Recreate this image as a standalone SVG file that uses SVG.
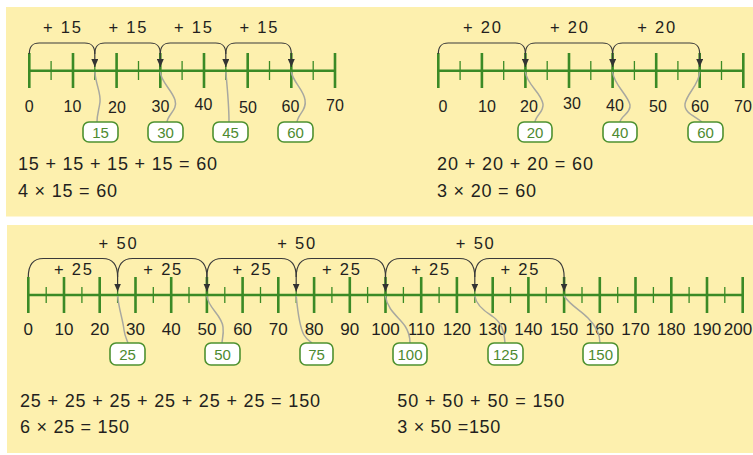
<svg xmlns="http://www.w3.org/2000/svg" width="753" height="455" viewBox="0 0 753 455">
<style>
.bg{fill:#fdf0ae}
.axis{stroke:#3b8a26;stroke-width:2.6;fill:none}
.maj{stroke:#3b8a26;stroke-width:2.6;fill:none}
.min{stroke:#3b8a26;stroke-width:1.3;fill:none}
.arc{stroke:#3a3a3a;stroke-width:1.2;fill:none;marker-end:url(#ah)}
.lead{stroke:#a8a8a0;stroke-width:1.5;fill:none}
.box{fill:#ffffff;stroke:#4e9130;stroke-width:1.6}
.bt{font-family:"Liberation Sans",Arial,sans-serif;font-size:15px;fill:#4e8a30;text-anchor:middle}
.lab{font-family:"Liberation Sans",Arial,sans-serif;font-size:16px;fill:#231f20;text-anchor:middle}
.lab2{font-family:"Liberation Sans",Arial,sans-serif;font-size:17px;fill:#231f20;text-anchor:middle}
.jmp{font-family:"Liberation Sans",Arial,sans-serif;font-size:16.5px;fill:#231f20;text-anchor:middle}
.eq{font-family:"Liberation Sans",Arial,sans-serif;font-size:18px;fill:#231f20}
</style>
<defs>
<marker id="ah" markerUnits="userSpaceOnUse" viewBox="0 0 8 7" markerWidth="8" markerHeight="7" refX="8" refY="3.5" orient="auto">
<path d="M0,0 L8,3.5 L0,7 Z" fill="#333333"/>
</marker>
</defs>

<rect class="bg" x="6" y="7" width="747" height="209.5"/>
<rect class="bg" x="7" y="225" width="746" height="228"/>

<!-- Number line 1 -->
<g id="line1">
<path class="axis" d="M29.3,70.7H335"/>
<path class="maj" d="M29.3,53V88M73,53V88M116.6,53V88M160.3,53V88M204,53V88M247.7,53V88M291.3,53V88M335,53V88"/>
<path class="min" d="M51.1,61V80M94.8,61V80M138.5,61V80M182.1,61V80M225.8,61V80M269.5,61V80M313.2,61V80"/>
<text class="lab" x="29.3" y="111.5">0</text>
<text class="lab" x="72.5" y="111.5">10</text>
<text class="lab" x="117" y="113">20</text>
<text class="lab" x="160.5" y="112">30</text>
<text class="lab" x="203.5" y="110">40</text>
<text class="lab" x="248" y="112.5">50</text>
<text class="lab" x="290.5" y="112">60</text>
<text class="lab" x="335" y="111">70</text>
</g>

<!-- Number line 2 -->
<g id="line2">
<path class="axis" d="M438.3,70.7H743.3"/>
<path class="maj" d="M438.3,53V88M481.9,53V88M525.4,53V88M569,53V88M612.6,53V88M656.2,53V88M699.7,53V88M743.3,53V88"/>
<path class="min" d="M460.1,61V80M503.7,61V80M547.2,61V80M590.8,61V80M634.4,61V80M677.9,61V80M721.5,61V80"/>
<text class="lab" x="443" y="112">0</text>
<text class="lab" x="487" y="112">10</text>
<text class="lab" x="529" y="112">20</text>
<text class="lab" x="572" y="108.5">30</text>
<text class="lab" x="615" y="111">40</text>
<text class="lab" x="658" y="112">50</text>
<text class="lab" x="700" y="112">60</text>
<text class="lab" x="743" y="112">70</text>
</g>

<!-- Number line 3 -->
<g id="line3">
<path class="axis" d="M28.3,295H742.7"/>
<path class="maj" d="M28.3,277V313M64,277V313M99.7,277V313M135.5,277V313M171.2,277V313M206.9,277V313M242.6,277V313M278.3,277V313M314.1,277V313M349.8,277V313M385.5,277V313M421.2,277V313M456.9,277V313M492.7,277V313M528.4,277V313M564.1,277V313M599.8,277V313M635.5,277V313M671.3,277V313M707,277V313M742.7,277V313"/>
<path class="min" d="M46.2,287V303M81.9,287V303M117.6,287V303M153.3,287V303M189,287V303M224.8,287V303M260.5,287V303M296.2,287V303M331.9,287V303M367.6,287V303M403.4,287V303M439.1,287V303M474.8,287V303M510.5,287V303M546.2,287V303M582,287V303M617.7,287V303M653.4,287V303M689.1,287V303M724.8,287V303"/>
<text class="lab2" x="28.3" y="335">0</text>
<text class="lab2" x="64" y="335">10</text>
<text class="lab2" x="99.7" y="335">20</text>
<text class="lab2" x="135.5" y="335">30</text>
<text class="lab2" x="171.2" y="335">40</text>
<text class="lab2" x="206.9" y="335">50</text>
<text class="lab2" x="242.6" y="335">60</text>
<text class="lab2" x="278.3" y="335">70</text>
<text class="lab2" x="314.1" y="335">80</text>
<text class="lab2" x="349.8" y="335">90</text>
<text class="lab2" x="385.5" y="335">100</text>
<text class="lab2" x="421.2" y="335">110</text>
<text class="lab2" x="456.9" y="335">120</text>
<text class="lab2" x="492.7" y="335">130</text>
<text class="lab2" x="528.4" y="335">140</text>
<text class="lab2" x="564.1" y="335">150</text>
<text class="lab2" x="599.8" y="335">160</text>
<text class="lab2" x="635.5" y="335">170</text>
<text class="lab2" x="671.3" y="335">180</text>
<text class="lab2" x="707" y="335">190</text>
<text class="lab2" x="738" y="335">200</text>
</g>

<!-- Connectors: jump arcs and leader curves -->
<g id="connectors">
<path class="arc" d="M29.3,54 C29.3,46 32.3,43 39.3,43 L84.8,43 C91.8,43 94.8,46 94.8,54 L94.8,67"/>
<path class="arc" d="M94.8,54 C94.8,46 97.8,43 104.8,43 L150.3,43 C157.3,43 160.3,46 160.3,54 L160.3,67"/>
<path class="arc" d="M160.3,54 C160.3,46 163.3,43 170.3,43 L215.8,43 C222.8,43 225.8,46 225.8,54 L225.8,67"/>
<path class="arc" d="M225.8,54 C225.8,46 228.8,43 235.8,43 L281.3,43 C288.3,43 291.3,46 291.3,54 L291.3,67"/>

<path class="arc" d="M438.3,54 C438.3,46 441.3,43 448.3,43 L515.4,43 C522.4,43 525.4,46 525.4,54 L525.4,67"/>
<path class="arc" d="M525.4,54 C525.4,46 528.4,43 535.4,43 L602.6,43 C609.6,43 612.6,46 612.6,54 L612.6,67"/>
<path class="arc" d="M612.6,54 C612.6,46 615.6,43 622.6,43 L689.7,43 C696.7,43 699.7,46 699.7,54 L699.7,67"/>

<path class="arc" d="M28.3,277 C28.3,266 32.3,258.5 43.3,258.5 L102.6,258.5 C113.6,258.5 117.6,266 117.6,277 L117.6,291.5"/>
<path class="arc" d="M117.6,277 C117.6,266 121.6,258.5 132.6,258.5 L191.9,258.5 C202.9,258.5 206.9,266 206.9,277 L206.9,291.5"/>
<path class="arc" d="M206.9,277 C206.9,266 210.9,258.5 221.9,258.5 L281.2,258.5 C292.2,258.5 296.2,266 296.2,277 L296.2,291.5"/>
<path class="arc" d="M296.2,277 C296.2,266 300.2,258.5 311.2,258.5 L370.5,258.5 C381.5,258.5 385.5,266 385.5,277 L385.5,291.5"/>
<path class="arc" d="M385.5,277 C385.5,266 389.5,258.5 400.5,258.5 L459.8,258.5 C470.8,258.5 474.8,266 474.8,277 L474.8,291.5"/>
<path class="arc" d="M474.8,277 C474.8,266 478.8,258.5 489.8,258.5 L549.1,258.5 C560.1,258.5 564.1,266 564.1,277 L564.1,291.5"/>

<path class="lead" d="M94.8,72 C96,85 101,93 100,102 C99,110 97,114 97,122"/>
<path class="lead" d="M160.3,72 C161,82 172,90 175,100 C178,110 168,114 167,122"/>
<path class="lead" d="M225.8,72 C228,95 229,105 229,122"/>
<path class="lead" d="M291.3,72 C293,82 304,90 305,100 C307,110 298,114 297,122"/>

<path class="lead" d="M525.4,72 C527,85 541,92 543,104 C544,112 536,115 535,122"/>
<path class="lead" d="M612.6,72 C614,85 628,95 630,105 C631,113 621,116 620,122"/>
<path class="lead" d="M699.7,72 C699,85 687,93 685,104 C684,113 695,116 702,122"/>

<path class="lead" d="M117.6,296 C119,310 123,320 124,330 C125,337 127,340 128,343"/>
<path class="lead" d="M206.9,296 C208,308 222,315 223,327 C224,335 222,339 222,343"/>
<path class="lead" d="M296.2,296 C298,315 300,328 304,335 C307,340 310,341 312,343"/>
<path class="lead" d="M385.5,296 C387,310 400,318 405,326 C409,332 410,338 410,343"/>
<path class="lead" d="M474.8,296 C476,305 484,311 492,316 C501,322 504,330 505,343"/>
<path class="lead" d="M564.1,296 C570,305 580,310 588,318 C596,326 600,333 600,343"/>
</g>

<!-- Jump labels -->
<g id="jumps">
<text class="jmp" x="62" y="33" textLength="38">+ 15</text>
<text class="jmp" x="127.5" y="33" textLength="38">+ 15</text>
<text class="jmp" x="193" y="33" textLength="38">+ 15</text>
<text class="jmp" x="258.5" y="33" textLength="38">+ 15</text>
<text class="jmp" x="481.9" y="33" textLength="38">+ 20</text>
<text class="jmp" x="569" y="33" textLength="38">+ 20</text>
<text class="jmp" x="656.2" y="33" textLength="38">+ 20</text>
<text class="jmp" x="117.6" y="248.5" textLength="38">+ 50</text>
<text class="jmp" x="296.2" y="248.5" textLength="38">+ 50</text>
<text class="jmp" x="474.8" y="248.5" textLength="38">+ 50</text>
<text class="jmp" x="73" y="275" textLength="38">+ 25</text>
<text class="jmp" x="162.3" y="275" textLength="38">+ 25</text>
<text class="jmp" x="251.6" y="275" textLength="38">+ 25</text>
<text class="jmp" x="340.9" y="275" textLength="38">+ 25</text>
<text class="jmp" x="430.2" y="275" textLength="38">+ 25</text>
<text class="jmp" x="519.5" y="275" textLength="38">+ 25</text>
</g>

<!-- Result boxes -->
<g id="box15"><rect class="box" x="83" y="122" width="35" height="20" rx="6"/><text class="bt" x="100.5" y="137.5">15</text></g>
<g id="box30"><rect class="box" x="148" y="122" width="35" height="20" rx="6"/><text class="bt" x="165.5" y="137.5">30</text></g>
<g id="box45"><rect class="box" x="213" y="122" width="35" height="20" rx="6"/><text class="bt" x="230.5" y="137.5">45</text></g>
<g id="box60a"><rect class="box" x="278" y="122" width="35" height="20" rx="6"/><text class="bt" x="295.5" y="137.5">60</text></g>

<g id="box20"><rect class="box" x="518" y="122" width="34" height="20" rx="6"/><text class="bt" x="535" y="137.5">20</text></g>
<g id="box40"><rect class="box" x="603" y="122" width="34" height="20" rx="6"/><text class="bt" x="620" y="137.5">40</text></g>
<g id="box60b"><rect class="box" x="688" y="122" width="35" height="20" rx="6"/><text class="bt" x="705.5" y="137.5">60</text></g>

<g id="box25"><rect class="box" x="110" y="343" width="35" height="22" rx="6"/><text class="bt" x="127.5" y="359.5">25</text></g>
<g id="box50"><rect class="box" x="205" y="343" width="35" height="22" rx="6"/><text class="bt" x="222.5" y="359.5">50</text></g>
<g id="box75"><rect class="box" x="300" y="343" width="33" height="22" rx="6"/><text class="bt" x="316.5" y="359.5">75</text></g>
<g id="box100"><rect class="box" x="393" y="343" width="34" height="22" rx="6"/><text class="bt" x="410" y="359.5">100</text></g>
<g id="box125"><rect class="box" x="488" y="343" width="35" height="22" rx="6"/><text class="bt" x="505.5" y="359.5">125</text></g>
<g id="box150"><rect class="box" x="583" y="343" width="35" height="22" rx="6"/><text class="bt" x="600.5" y="359.5">150</text></g>

<!-- Equations -->
<g id="equations">
<text class="eq" x="18" y="170" textLength="199">15 + 15 + 15 + 15 = 60</text>
<text class="eq" x="18" y="196.7" textLength="99">4 × 15 = 60</text>
<text class="eq" x="437" y="170" textLength="156">20 + 20 + 20 = 60</text>
<text class="eq" x="437" y="196.7" textLength="99">3 × 20 = 60</text>
<text class="eq" x="20" y="406.7" textLength="300">25 + 25 + 25 + 25 + 25 + 25 = 150</text>
<text class="eq" x="20" y="433.3" textLength="109">6 × 25 = 150</text>
<text class="eq" x="397.3" y="406.7" textLength="167">50 + 50 + 50 = 150</text>
<text class="eq" x="397.3" y="433.3" textLength="103">3 × 50 =150</text>
</g>
</svg>
